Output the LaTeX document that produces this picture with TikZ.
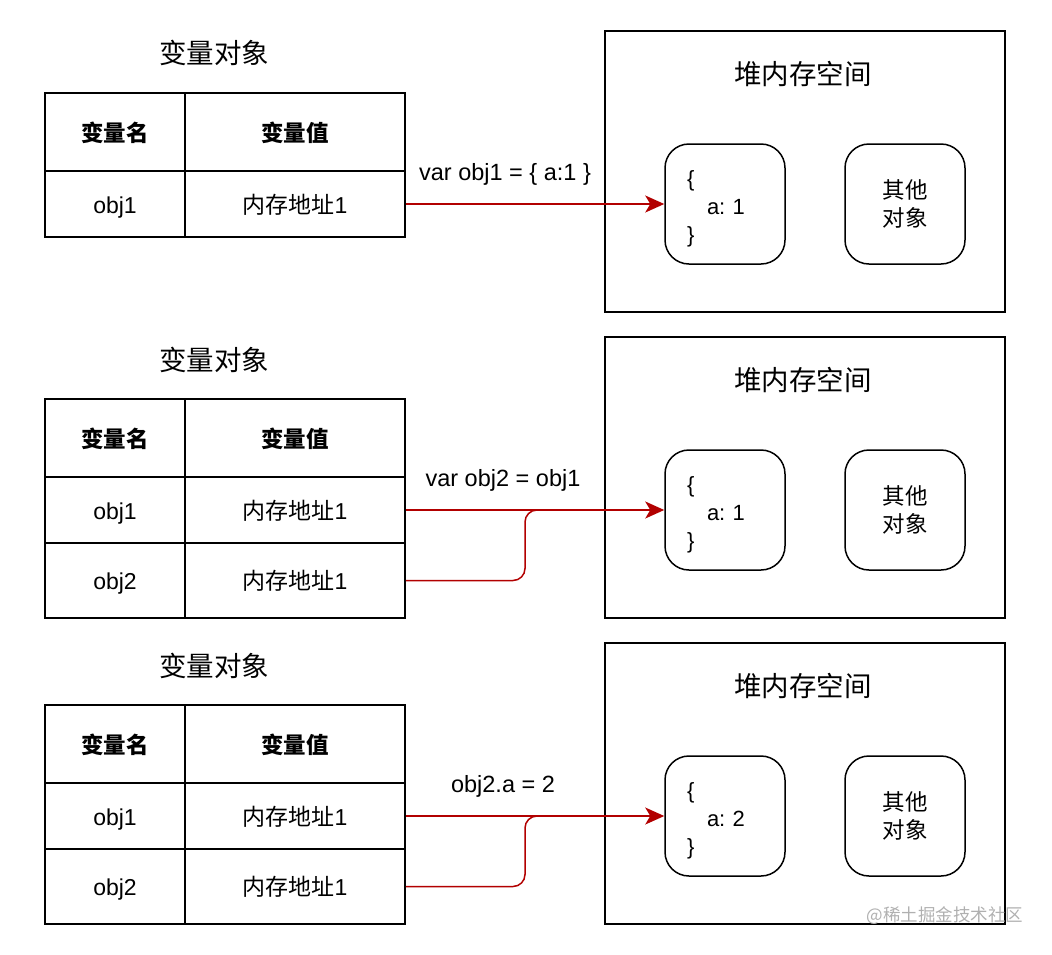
\documentclass[tikz,border=0pt]{standalone}
\usepackage{fontspec}
\setmainfont{Liberation Sans}
\newfontfamily\cjk{Noto Sans CJK SC}
\usetikzlibrary{arrows.meta}
\definecolor{arrred}{HTML}{B20000}
\definecolor{wmgray}{HTML}{B0B0B0}
\frenchspacing
\newcommand{\objtext}[1]{\rule{0pt}{25pt}\{\\\hspace*{20pt}a: #1\\\}}
\tikzset{
  cell/.style={draw, line width=1.5pt, inner sep=0pt, align=center, text height=21pt, text depth=3pt, font=\fontsize{23}{27}\selectfont},
  namecell/.style={cell, minimum width=140pt},
  valcell/.style={cell, minimum width=220pt},
  headcell/.style={minimum height=78pt, font=\fontsize{22.5}{27}\selectfont\cjk\bfseries},
  title/.style={font=\fontsize{27.5}{32}\selectfont\cjk, inner sep=0pt},
  heap/.style={draw, line width=1.5pt, minimum width=400pt, minimum height=281pt, inner sep=0pt},
  objbox/.style={draw, line width=1.5pt, rounded corners=24pt, minimum width=120pt, minimum height=120pt, inner sep=0pt, align=left, text width=76pt, font=\fontsize{22}{28}\selectfont},
  otherbox/.style={draw, line width=1.5pt, rounded corners=24pt, minimum width=120pt, minimum height=120pt, inner sep=0pt, align=center, font=\fontsize{22.5}{28}\selectfont\cjk},
  lbl/.style={font=\fontsize{23.5}{27}\selectfont, inner sep=0pt},
  ptr/.style={draw=arrred, line width=1.5pt, -{Stealth[length=19pt,width=17pt,inset=5pt]}},
  ptrb/.style={draw=arrred, line width=1.5pt, rounded corners=12pt},
}
\begin{document}
\begin{tikzpicture}[x=1pt,y=-1pt]
\useasboundingbox (0,0) rectangle (1052,954);
% ---------- panel 1 ----------
\node[title] (t1) at (214,53) {变量对象};
\node[namecell,headcell] (hn1) at (115,132) {变量名};
\node[valcell,headcell] (hv1) at (295,132) {变量值};
\node[namecell,minimum height=66pt] (n11) at (115,204) {obj1};
\node[valcell,minimum height=66pt] (v11) at (295,204) {{\cjk 内存地址}1};
\node[heap] (hp1) at (805,171.5) {};
\node[title] (ht1) at (803,74) {堆内存空间};
\node[objbox] (o1) at (725,204) {\objtext{1}};
\node[otherbox] (q1) at (905,204) {其他\\对象};
\node[lbl] (l1) at (505,174) {var obj1 = \{ a:1 \}};
\draw[ptr] (v11.east) -- (o1.west);
% ---------- panel 2 ----------
\node[title] (t2) at (214,360) {变量对象};
\node[namecell,headcell] (hn2) at (115,438) {变量名};
\node[valcell,headcell] (hv2) at (295,438) {变量值};
\node[namecell,minimum height=66pt] (n21) at (115,510) {obj1};
\node[valcell,minimum height=66pt] (v21) at (295,510) {{\cjk 内存地址}1};
\node[namecell,minimum height=75pt] (n22) at (115,580.5) {obj2};
\node[valcell,minimum height=75pt] (v22) at (295,580.5) {{\cjk 内存地址}1};
\node[heap] (hp2) at (805,477.5) {};
\node[title] (ht2) at (803,380) {堆内存空间};
\node[objbox] (o2) at (725,510) {\objtext{1}};
\node[otherbox] (q2) at (905,510) {其他\\对象};
\node[lbl] (l2) at (503,480) {var obj2 = obj1};
\coordinate (m2) at (540,510);
\draw[ptrb] (v22.east) -- (525,580.5) -- (525,510) -- (m2);
\draw[ptr] (v21.east) -- (o2.west);
% ---------- panel 3 ----------
\node[title] (t3) at (214,666) {变量对象};
\node[namecell,headcell] (hn3) at (115,744) {变量名};
\node[valcell,headcell] (hv3) at (295,744) {变量值};
\node[namecell,minimum height=66pt] (n31) at (115,816) {obj1};
\node[valcell,minimum height=66pt] (v31) at (295,816) {{\cjk 内存地址}1};
\node[namecell,minimum height=75pt] (n32) at (115,886.5) {obj2};
\node[valcell,minimum height=75pt] (v32) at (295,886.5) {{\cjk 内存地址}1};
\node[heap] (hp3) at (805,783.5) {};
\node[title] (ht3) at (803,686) {堆内存空间};
\node[objbox] (o3) at (725,816) {\objtext{2}};
\node[otherbox] (q3) at (905,816) {其他\\对象};
\node[lbl] (l3) at (503,786) {obj2.a = 2};
\coordinate (m3) at (540,816);
\draw[ptrb] (v32.east) -- (525,886.5) -- (525,816) -- (m3);
\draw[ptr] (v31.east) -- (o3.west);
% watermark
\node[font=\fontsize{17.5}{20}\selectfont\cjk, text=wmgray, inner sep=0pt] (wm) at (945,916) {@稀土掘金技术社区};
\end{tikzpicture}
\end{document}
